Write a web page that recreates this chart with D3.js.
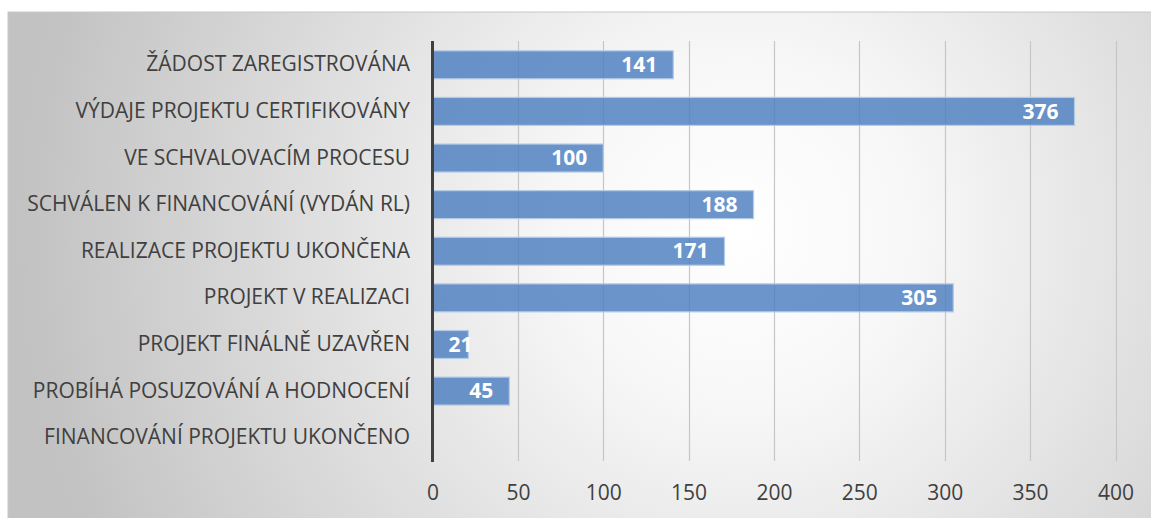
<!DOCTYPE html>
<html><head><meta charset="utf-8">
<script src="https://cdn.jsdelivr.net/npm/d3@7"></script>
<style>html,body{margin:0;padding:0;background:#fff;}svg{display:block;}</style>
</head><body>
<svg id="c" width="1151" height="518"></svg>
<script>
const categories = ["ŽÁDOST ZAREGISTROVÁNA","VÝDAJE PROJEKTU CERTIFIKOVÁNY","VE SCHVALOVACÍM PROCESU","SCHVÁLEN K FINANCOVÁNÍ (VYDÁN RL)","REALIZACE PROJEKTU UKONČENA","PROJEKT V REALIZACI","PROJEKT FINÁLNĚ UZAVŘEN","PROBÍHÁ POSUZOVÁNÍ A HODNOCENÍ","FINANCOVÁNÍ PROJEKTU UKONČENO"];
const values = [141,376,100,188,171,305,21,45,null];
const ticks = [0,50,100,150,200,250,300,350,400];

const svg = d3.select("#c");
const defs = svg.append("defs");
const rg = defs.append("radialGradient").attr("id","bg").attr("gradientUnits","userSpaceOnUse")
  .attr("cx",740).attr("cy",230).attr("r",720);
rg.append("stop").attr("offset","0%").attr("stop-color","#ffffff");
rg.append("stop").attr("offset","25%").attr("stop-color","#f7f7f7");
rg.append("stop").attr("offset","100%").attr("stop-color","#c2c2c2");

svg.append("rect").attr("x",8).attr("y",12).attr("width",1160).attr("height",520)
  .attr("fill","url(#bg)").attr("stroke","#c8c8c8").attr("stroke-width",1);

const x = d3.scaleLinear().domain([0,400]).range([432.5,1115.5]);
const y = d3.scaleBand().domain(categories).range([41.5,461]).paddingInner(0.4).paddingOuter(0.2);

const font = "'Open Sans', 'Noto Sans', sans-serif";

// gridlines
svg.append("g").selectAll("line").data(ticks.filter(t=>t>0)).join("line")
  .attr("x1",d=>Math.round(x(d))+0.5).attr("x2",d=>Math.round(x(d))+0.5)
  .attr("y1",41).attr("y2",461).attr("stroke","#c6c6c6").attr("stroke-width",1.2);

const rows = categories.map((c,i)=>({c,v:values[i]})).filter(d=>d.v!=null);

// bars
svg.append("g").selectAll("rect").data(rows).join("rect")
  .attr("x",x(0)).attr("y",d=>y(d.c)).attr("width",d=>x(d.v)-x(0)).attr("height",y.bandwidth())
  .attr("fill","#4a7ebf").attr("fill-opacity",0.82).attr("stroke","#b4cbe6").attr("stroke-width",1.2);

// value labels
svg.append("g").selectAll("text").data(rows).join("text")
  .attr("y",d=>y(d.c)+y.bandwidth()/2+1.5)
  .attr("text-anchor","end").attr("dominant-baseline","middle")
  .attr("fill","#ffffff").attr("font-weight","bold").attr("font-size",21).attr("font-family",font)
  .text(d=>d.v)
  .each(function(d){
    const w = this.getComputedTextLength();
    d3.select(this).attr("x", Math.max(x(d.v)-16, x(0)+16+w));
  });

// axis line
svg.append("line").attr("x1",x(0)).attr("x2",x(0)).attr("y1",41).attr("y2",462)
  .attr("stroke","#404040").attr("stroke-width",3);

// category labels
svg.append("g").selectAll("text").data(categories).join("text")
  .attr("x",410).attr("y",d=>y(d)+y.bandwidth()/2+1)
  .attr("text-anchor","end").attr("dominant-baseline","middle")
  .attr("fill","#404040").attr("font-size",21).attr("font-family",font)
  .text(d=>d);

// tick labels
const xa = d3.axisBottom(x).tickValues(ticks).tickSize(0).tickPadding(0);
const g = svg.append("g").attr("transform","translate(0,494)").call(xa);
g.select(".domain").remove();
g.selectAll("text").attr("fill","#404040").attr("font-size",21).attr("font-family",font)
  .attr("dy",null).attr("dominant-baseline","middle");
</script>
</body></html>
